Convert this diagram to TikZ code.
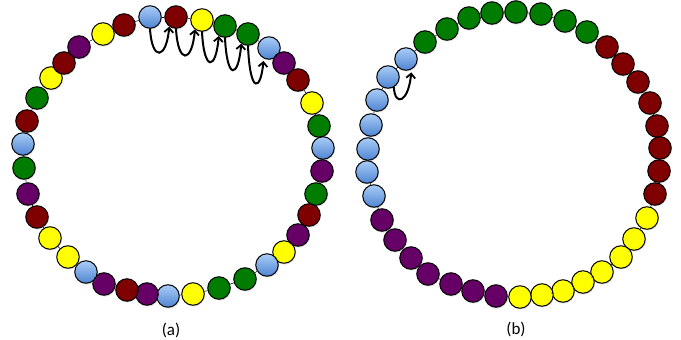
\documentclass[tikz,border=0pt]{standalone}
\usepackage{fontspec}
\setmainfont{Carlito}
\usetikzlibrary{arrows.meta,shadows}
\definecolor{mrc}{HTML}{7F0000}
\definecolor{grc}{HTML}{007D00}
\definecolor{ylc}{HTML}{FFFF00}
\definecolor{puc}{HTML}{660066}
\definecolor{lbtop}{HTML}{A9CDF7}
\definecolor{lbbot}{HTML}{4F84D2}
\begin{document}
\begin{tikzpicture}[x=1pt,y=-1pt,
  bead/.style={circle,draw=black,line width=1pt,minimum size=22.5pt,inner sep=0pt,
    drop shadow={opacity=0.22,shadow xshift=0.8pt,shadow yshift=-1.4pt}},
  lb/.style={top color=lbtop,bottom color=lbbot},
  mr/.style={fill=mrc},
  gr/.style={fill=grc},
  yl/.style={fill=ylc},
  pu/.style={fill=puc},
  ring/.style={draw=black,line width=0.5pt},
  hop/.style={draw=black,line width=2pt,line cap=round,
    -{Straight Barb[length=4.5pt,width=9pt,line width=1.8pt]}},
  lbl/.style={font=\fontsize{17}{20}\selectfont,inner sep=0pt}]
\useasboundingbox (0,0) rectangle (681,340);

% ring (a)
\foreach \x/\y/\c [count=\i] in {
 150/17/lb, 176/17/mr, 202/20/yl, 225/26/gr, 248/34/gr, 269/48/lb,
 284/63/pu, 298/80/mr, 312/103/yl, 319/126/gr, 323/148/lb, 322/171/pu,
 316/194/gr, 309/215/mr, 298/235/pu, 284/252/yl, 267/265/lb, 245/279/gr,
 219/288/gr, 193/294/yl, 168/296/lb, 147/294/pu, 127/290/mr, 104/284/pu,
 86/272/lb, 68/257/yl, 50/238/yl, 37/217/mr, 28/194/pu, 24/168/gr,
 23/144/lb, 27/121/mr, 37/98/gr, 51/78/yl, 64/63/mr, 79/47/pu,
 103/34/yl, 124/25/mr}
  \node[bead,\c] (a\i) at (\x,\y) {};

% ring (b)
\foreach \x/\y/\c [count=\i] in {
 425/42/gr, 447/29/gr, 469/18/gr, 492/13/gr, 516/12/gr, 541/14/gr,
 565/21/gr, 587/32/gr, 607/47/mr, 623/64/mr, 638/82/mr, 650/103/mr,
 657/126/mr, 660/148/mr, 659/171/mr, 655/194/mr, 647/218/yl, 634/239/yl,
 621/257/yl, 602/272/yl, 583/282/yl, 563/291/yl, 542/295/yl, 520/297/yl,
 496/296/pu, 473/291/pu, 451/284/pu, 428/274/pu, 411/258/pu, 395/240/pu,
 382/220/pu, 374/196/lb, 367/172/lb, 368/149/lb, 371/125/lb, 377/100/lb,
 388/77/lb, 406/59/lb}
  \node[bead,\c] (b\i) at (\x,\y) {};

% strings joining neighbouring beads
\foreach \i [remember=\i as \j (initially 38)] in {1,...,38} {
  \draw[ring] (a\j) -- (a\i);
  \draw[ring] (b\j) -- (b\i);
}

% hops in (a)
\draw[hop] (a1.-90) .. controls +(2,33) and +(-3,33) .. (a2.-125);
\draw[hop] (a2.-90) .. controls +(2,36) and +(-3,34) .. (a3.-127);
\draw[hop] (a3.-90) .. controls +(2,40) and +(-3,35) .. (a4.-122);
\draw[hop] (a4.-90) .. controls +(2,43) and +(-3,35) .. (a5.-125);
\draw[hop,shorten >=2.5pt] (a5.-90) .. controls +(2,49) and +(-3,33) .. (a6.-117);

% hop in (b)
\draw[hop,shorten >=3pt] (b37.-60) .. controls +(1,20) and +(-3,33) .. (b38.-62);

% labels
\node[lbl] (la) at (171,330) {(a)};
\node[lbl] (lb) at (516,329) {(b)};
\end{tikzpicture}
\end{document}
